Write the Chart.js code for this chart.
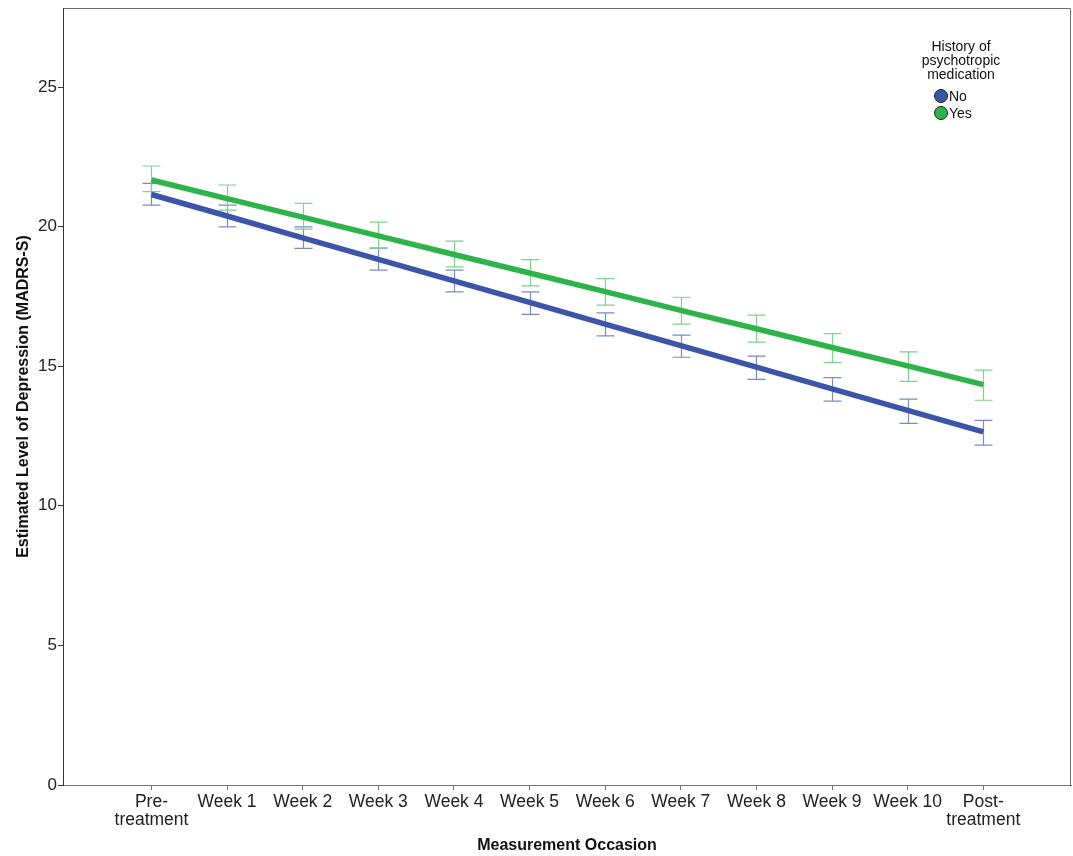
<!DOCTYPE html>
<html>
<head>
<meta charset="utf-8">
<script src="https://cdn.jsdelivr.net/npm/chart.js@4.4.1/dist/chart.umd.min.js"></script>
<style>
  html, body { margin: 0; padding: 0; background: #ffffff; }
  #wrap { width: 1073px; height: 856px; position: relative; }
</style>
</head>
<body>
<div id="wrap"><canvas id="chart" width="1073" height="856"></canvas></div>
<script>
// Measurement occasions (x categories)
const occasions = [
  ["Pre-", "treatment"], "Week 1", "Week 2", "Week 3", "Week 4", "Week 5",
  "Week 6", "Week 7", "Week 8", "Week 9", "Week 10", ["Post-", "treatment"]
];

// Estimated MADRS-S, no history of psychotropic medication
const noMean  = [21.15, 20.38, 19.60, 18.83, 18.06, 17.29, 16.51, 15.74, 14.97, 14.19, 13.42, 12.65];
const noLow   = [20.77, 19.99, 19.22, 18.44, 17.66, 16.86, 16.09, 15.32, 14.53, 13.75, 12.95, 12.17];
const noHigh  = [21.55, 20.77, 19.99, 19.23, 18.44, 17.66, 16.91, 16.11, 15.36, 14.59, 13.82, 13.06];

// Estimated MADRS-S, history of psychotropic medication
const yesMean = [21.67, 21.00, 20.34, 19.67, 19.00, 18.34, 17.67, 17.00, 16.34, 15.67, 15.01, 14.34];
const yesLow  = [21.25, 20.59, 19.91, 19.23, 18.56, 17.88, 17.19, 16.51, 15.86, 15.13, 14.46, 13.78];
const yesHigh = [22.17, 21.49, 20.83, 20.16, 19.48, 18.82, 18.14, 17.47, 16.83, 16.17, 15.51, 14.86];

const yTicks = [0, 5, 10, 15, 20, 25];

const FONT = "'Liberation Sans', Arial, Helvetica, sans-serif";
const BLUE = "#3c55a8";
const GREEN = "#2eb34b";
const BLUE_BAR = "#7b89c7";
const GREEN_BAR = "#7fd18b";

function points(arr) { return arr.map((v, i) => ({ x: i, y: v })); }

// Confidence interval whiskers with caps, drawn beneath the lines
const errorBars = {
  id: "errorBars",
  beforeDatasetsDraw(chart) {
    const ctx = chart.ctx;
    const xs = chart.scales.x, ys = chart.scales.y;
    const sets = [
      { low: noLow, high: noHigh, color: BLUE_BAR },
      { low: yesLow, high: yesHigh, color: GREEN_BAR }
    ];
    ctx.save();
    ctx.lineWidth = 1.2;
    sets.forEach(s => {
      ctx.strokeStyle = s.color;
      s.low.forEach((lo, i) => {
        const px = Math.round(xs.getPixelForValue(i)) + 0.5;
        const y1 = ys.getPixelForValue(lo);
        const y2 = ys.getPixelForValue(s.high[i]);
        ctx.beginPath();
        ctx.moveTo(px, y1); ctx.lineTo(px, y2);
        ctx.moveTo(px - 9, y1); ctx.lineTo(px + 9, y1);
        ctx.moveTo(px - 9, y2); ctx.lineTo(px + 9, y2);
        ctx.stroke();
      });
    });
    ctx.restore();
  }
};

// Frame around the plotting area (top and right edges)
const frame = {
  id: "frame",
  afterDraw(chart) {
    const { ctx, chartArea: a } = chart;
    ctx.save();
    ctx.strokeStyle = "#6e6e6e";
    ctx.lineWidth = 1;
    ctx.beginPath();
    ctx.moveTo(a.left + 0.5, a.top + 0.5);
    ctx.lineTo(a.right - 0.5, a.top + 0.5);
    ctx.lineTo(a.right - 0.5, a.bottom);
    ctx.stroke();
    ctx.restore();
  }
};

// Legend with a three-line title and circular markers
const groupLegend = {
  id: "groupLegend",
  afterDraw(chart) {
    const ctx = chart.ctx;
    ctx.save();
    ctx.fillStyle = "#111";
    ctx.font = "14px " + FONT;
    ctx.textAlign = "center";
    ctx.textBaseline = "middle";
    ["History of", "psychotropic", "medication"].forEach((t, i) => {
      ctx.fillText(t, 961, 47 + i * 14);
    });
    ctx.textAlign = "left";
    chart.data.datasets.forEach((ds, i) => {
      const cy = 96 + i * 17;
      ctx.beginPath();
      ctx.arc(941, cy, 6.5, 0, Math.PI * 2);
      ctx.fillStyle = ds.borderColor;
      ctx.fill();
      ctx.lineWidth = 1;
      ctx.strokeStyle = "#222";
      ctx.stroke();
      ctx.fillStyle = "#111";
      ctx.font = "14px " + FONT;
      ctx.fillText(ds.label, 949, cy + 1);
    });
    ctx.restore();
  }
};

new Chart(document.getElementById("chart"), {
  type: "line",
  data: {
    datasets: [
      { label: "No", data: points(noMean), borderColor: BLUE, backgroundColor: BLUE,
        borderWidth: 5.5, pointRadius: 0, tension: 0, fill: false },
      { label: "Yes", data: points(yesMean), borderColor: GREEN, backgroundColor: GREEN,
        borderWidth: 5.5, pointRadius: 0, tension: 0, fill: false }
    ]
  },
  options: {
    responsive: false,
    animation: false,
    layout: { padding: { top: 8, right: 2, left: 0, bottom: 0 } },
    plugins: {
      legend: { display: false },
      tooltip: { enabled: false }
    },
    scales: {
      x: {
        type: "linear",
        min: -1.17,
        max: 12.16,
        afterBuildTicks(scale) { scale.ticks = occasions.map((_, i) => ({ value: i })); },
        afterFit(scale) { scale.height = 71; scale.paddingLeft = 0; scale.paddingRight = 0; },
        ticks: {
          autoSkip: false,
          maxRotation: 0,
          padding: 3,
          color: "#222",
          font: { family: FONT, size: 17.5, lineHeight: 1.05 },
          callback: (v) => occasions[v]
        },
        grid: { drawOnChartArea: false, drawTicks: true, tickLength: 5, color: "#777" },
        border: { display: true, color: "#777", width: 1 },
        title: {
          display: true,
          text: "Measurement Occasion",
          color: "#111",
          font: { family: FONT, size: 16, weight: "bold" },
          padding: { top: 0, bottom: 1 }
        }
      },
      y: {
        min: 0,
        max: 27.83,
        afterBuildTicks(scale) { scale.ticks = yTicks.map(v => ({ value: v })); },
        afterFit(scale) { scale.width = 63; scale.paddingTop = 0; scale.paddingBottom = 0; },
        ticks: {
          padding: 1,
          color: "#222",
          font: { family: FONT, size: 17 }
        },
        grid: { drawOnChartArea: false, drawTicks: true, tickLength: 5, color: "#333" },
        border: { display: true, color: "#333", width: 1 },
        title: {
          display: true,
          text: "Estimated Level of Depression (MADRS-S)",
          color: "#111",
          font: { family: FONT, size: 16, weight: "bold" },
          padding: { top: 14, bottom: 0 }
        }
      }
    }
  },
  plugins: [errorBars, frame, groupLegend]
});
</script>
</body>
</html>
